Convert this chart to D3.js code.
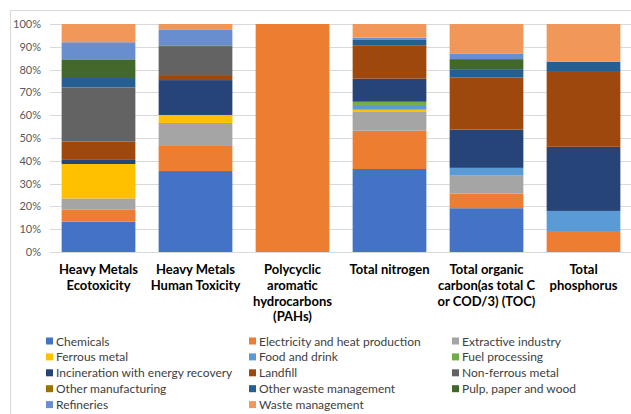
<!DOCTYPE html>
<html>
<head>
<meta charset="utf-8">
<script src="https://cdn.jsdelivr.net/npm/d3@7"></script>
<style>
  body { margin: 0; background: #fff; }
  svg { display: block; font-family: Lato, Carlito, Calibri, sans-serif; }
</style>
</head>
<body>
<svg id="chart" width="631" height="414"></svg>
<script>
(function () {

  // categories and their wrapped tick labels
  var categories = ['HMEco', 'HMHuman', 'PAHs', 'Nitrogen', 'TOC', 'Phosphorus'];
  var categoryLabels = [
    ['Heavy Metals', 'Ecotoxicity'],
    ['Heavy Metals', 'Human Toxicity'],
    ['Polycyclic', 'aromatic', 'hydrocarbons', '(PAHs)'],
    ['Total nitrogen'],
    ['Total organic', 'carbon(as total C', 'or COD/3) (TOC)'],
    ['Total', 'phosphorus']
  ];

  var seriesNames = [
    'Chemicals', 'Electricity and heat production', 'Extractive industry',
    'Ferrous metal', 'Food and drink', 'Fuel processing',
    'Incineration with energy recovery', 'Landfill', 'Non-ferrous metal',
    'Other manufacturing', 'Other waste management', 'Pulp, paper and wood',
    'Refineries', 'Waste management'
  ];

  var seriesColors = [
    '#4472c4', '#ed7d31', '#a5a5a5', '#ffc000', '#5b9bd5', '#70ad47',
    '#264478', '#9e480e', '#636363', '#997300', '#255e91', '#43682b',
    '#698ed0', '#f1975a'
  ];

  // share (%) per category, same order as categories
  var chemicals     = [13.3, 35.5,   0, 36.4, 19.2,  0];
  var electricity   = [ 5.4, 11.0, 100, 16.8,  6.4,  8.8];
  var extractive    = [ 4.8, 10.1,   0,  8.5,  7.9,  0];
  var ferrous       = [15.1,  3.5,   0,  0.7,  0,    0];
  var foodDrink     = [ 0,    0,     0,  2.1,  3.4,  9.2];
  var fuel          = [ 0,    0,     0,  1.4,  0,    0];
  var incineration  = [ 1.8, 15.3,   0, 10.1, 16.8, 28.1];
  var landfill      = [ 8.0,  2.2,   0, 14.7, 22.8, 32.8];
  var nonFerrous    = [23.8, 12.7,   0,  0,    0,    0];
  var otherManuf    = [ 0,    0,     0,  0,    0,    0];
  var otherWaste    = [ 4.1,  0,     0,  2.3,  3.7,  4.5];
  var pulp          = [ 8.2,  0.3,   0,  0,    4.4,  0];
  var refineries    = [ 7.5,  6.8,   0,  1.0,  2.5,  0];
  var wasteMgmt     = [ 8.0,  2.6,   0,  6.0, 12.9, 16.5];

  var yTicks = [0, 0.1, 0.2, 0.3, 0.4, 0.5, 0.6, 0.7, 0.8, 0.9, 1];

  var seriesValues = [chemicals, electricity, extractive, ferrous, foodDrink, fuel,
    incineration, landfill, nonFerrous, otherManuf, otherWaste, pulp, refineries, wasteMgmt];

  var svg = d3.select('#chart');

  // rows for d3.stack
  var rows = categories.map(function (c, i) {
    var row = { category: c };
    seriesNames.forEach(function (s, j) {
      row[s] = seriesValues[j][i];
    });
    return row;
  });

  var stacked = d3.stack()
  .keys(seriesNames)
  .offset(d3.stackOffsetExpand)(rows);

  var x = d3.scaleBand()
  .domain(categories)
  .range([50, 632])
  .paddingInner(0.24)
  .paddingOuter(0.12);

  var y = d3.scaleLinear()
  .domain([0, 1])
  .range([252, 24]);

  var color = d3.scaleOrdinal()
  .domain(seriesNames)
  .range(seriesColors);

  // outer chart border
  svg.append('rect')
  .attr('x', 10.5)
  .attr('y', 10.5)
  .attr('width', 640)
  .attr('height', 420)
  .attr('fill', 'none')
  .attr('stroke', '#d9d9d9');

  // gridlines
  svg.append('g')
  .selectAll('line')
  .data(yTicks)
  .enter()
  .append('line')
  .attr('x1', 50)
  .attr('x2', 632)
  .attr('y1', function (d) { return Math.round(y(d)) + 0.5; })
  .attr('y2', function (d) { return Math.round(y(d)) + 0.5; })
  .attr('stroke', '#d9d9d9');

  // y axis labels
  var yAxis = svg.append('g')
  .attr('transform', 'translate(50,0)')
  .call(d3.axisLeft(y)
  .tickValues(yTicks)
  .tickFormat(d3.format('.0%'))
  .tickSize(0)
  .tickPadding(9));

  yAxis.select('.domain').remove();
  yAxis.selectAll('text')
  .attr('fill', '#595959')
  .style('font-size', '11px')
  .style('font-family', 'Lato, Carlito, Calibri, sans-serif');

  // bars
  svg.append('g')
  .selectAll('g')
  .data(stacked)
  .enter()
  .append('g')
  .attr('fill', function (d) { return color(d.key); })
  .selectAll('rect')
  .data(function (d) { return d; })
  .enter()
  .append('rect')
  .attr('x', function (d) { return x(d.data.category); })
  .attr('width', x.bandwidth())
  .attr('y', function (d) { return y(d[1]); })
  .attr('height', function (d) { return y(d[0]) - y(d[1]); });

  // category labels
  var labels = svg.append('g')
  .selectAll('text')
  .data(categories)
  .enter()
  .append('text')
  .attr('x', function (d) { return x(d) + x.bandwidth() / 2; })
  .attr('y', 274)
  .attr('text-anchor', 'middle')
  .attr('fill', '#000')
  .style('font-size', '13px')
  .style('font-weight', 'bold');

  labels.each(function (d, i) {
    var t = d3.select(this);
    categoryLabels[i].forEach(function (line, k) {
      t.append('tspan')
      .attr('x', x(d) + x.bandwidth() / 2)
      .attr('y', 274 + k * 15.8)
      .text(line);
    });
  });

  // legend, three columns
  var legendCols = [46, 249, 452];
  var legend = svg.append('g')
  .selectAll('g')
  .data(seriesNames)
  .enter()
  .append('g')
  .attr('transform', function (d, i) {
    return 'translate(' + legendCols[i % 3] + ',' + (341 + Math.floor(i / 3) * 15.9) + ')';
  });

  legend.append('rect')
  .attr('x', 0)
  .attr('y', -3.5)
  .attr('width', 7)
  .attr('height', 7)
  .attr('fill', function (d) { return color(d); });

  legend.append('text')
  .attr('x', 10)
  .attr('y', 4.5)
  .attr('fill', '#404040')
  .style('font-size', '12px')
  .text(function (d) { return d; });

})();
</script>
</body>
</html>
